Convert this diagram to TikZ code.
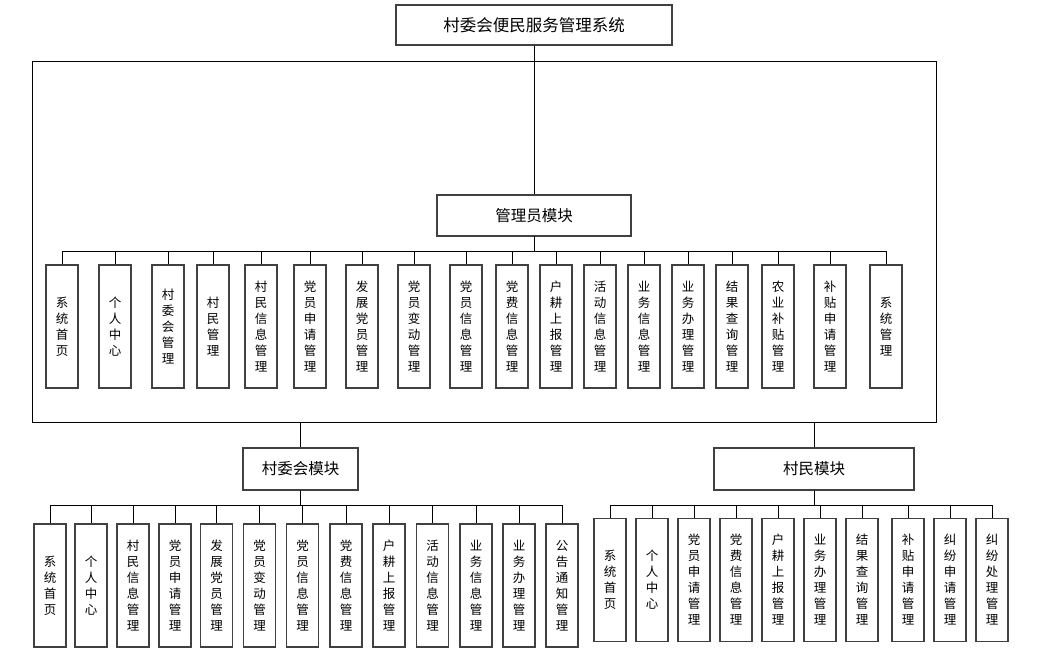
\documentclass[tikz,border=0pt]{standalone}
\usepackage{fontspec}
\setmainfont{Noto Sans CJK SC}
\usepackage{tikz}

\begin{document}
\begin{tikzpicture}[x=1pt, y=-1pt, line width=0.8pt,
box/.style={draw=black!75, line width=1.1pt, inner sep=0pt},
func/.style={box, minimum width=32pt, minimum height=123pt, align=center,
font=\fontsize{12.5}{16}\selectfont},
bus/.style={to path={-- ++(0,15) -| (\tikztotarget)}}]
\useasboundingbox (0,0) rectangle (1040,650);
\node [box, minimum width=276pt, minimum height=40pt, font=\fontsize{16.5}{20}\selectfont] (sys) at (534,25) {村委会便民服务管理系统};
\node [draw, line width=0.9pt, minimum width=904pt, minimum height=361pt] (frame) at (484,241.5) {};
\node [box, fill=white, minimum width=194pt, minimum height=41pt, font=\fontsize{15.5}{19}\selectfont] (adm) at (534,215.5) {管理员模块};
\node [box, minimum width=115pt, minimum height=42pt, font=\fontsize{15.5}{19}\selectfont] (cwh) at (300.5,469) {村委会模块};
\node [box, minimum width=200pt, minimum height=42pt, font=\fontsize{15.5}{19}\selectfont] (cm) at (814,469) {村民模块};

% admin module
\node [func] (a1) at (62,326.5) {系\\统\\首\\页};
\node [func] (a2) at (115,326.5) {个\\人\\中\\心};
\node [func] (a3) at (168,326.5) {村\\委\\会\\管\\理};
\node [func] (a4) at (213,326.5) {村\\民\\管\\理};
\node [func] (a5) at (261,326.5) {村\\民\\信\\息\\管\\理};
\node [func] (a6) at (310,326.5) {党\\员\\申\\请\\管\\理};
\node [func] (a7) at (362,326.5) {发\\展\\党\\员\\管\\理};
\node [func] (a8) at (414,326.5) {党\\员\\变\\动\\管\\理};
\node [func] (a9) at (466,326.5) {党\\员\\信\\息\\管\\理};
\node [func] (a10) at (512,326.5) {党\\费\\信\\息\\管\\理};
\node [func] (a11) at (556,326.5) {户\\耕\\上\\报\\管\\理};
\node [func] (a12) at (600,326.5) {活\\动\\信\\息\\管\\理};
\node [func] (a13) at (644,326.5) {业\\务\\信\\息\\管\\理};
\node [func] (a14) at (688,326.5) {业\\务\\办\\理\\管\\理};
\node [func] (a15) at (732,326.5) {结\\果\\查\\询\\管\\理};
\node [func] (a16) at (778,326.5) {农\\业\\补\\贴\\管\\理};
\node [func] (a17) at (830,326.5) {补\\贴\\申\\请\\管\\理};
\node [func] (a18) at (886,326.5) {系\\统\\管\\理};

% village committee module
\node [func] (w1) at (50,585.5) {系\\统\\首\\页};
\node [func] (w2) at (91,585.5) {个\\人\\中\\心};
\node [func] (w3) at (133,585.5) {村\\民\\信\\息\\管\\理};
\node [func] (w4) at (175,585.5) {党\\员\\申\\请\\管\\理};
\node [func] (w5) at (216.5,585.5) {发\\展\\党\\员\\管\\理};
\node [func] (w6) at (259.5,585.5) {党\\员\\变\\动\\管\\理};
\node [func] (w7) at (302.5,585.5) {党\\员\\信\\息\\管\\理};
\node [func] (w8) at (346,585.5) {党\\费\\信\\息\\管\\理};
\node [func] (w9) at (389,585.5) {户\\耕\\上\\报\\管\\理};
\node [func] (w10) at (432.5,585.5) {活\\动\\信\\息\\管\\理};
\node [func] (w11) at (476,585.5) {业\\务\\信\\息\\管\\理};
\node [func] (w12) at (519,585.5) {业\\务\\办\\理\\管\\理};
\node [func] (w13) at (562,585.5) {公\\告\\通\\知\\管\\理};

% villager module
\node [func] (v1) at (610,580) {系\\统\\首\\页};
\node [func] (v2) at (652,580) {个\\人\\中\\心};
\node [func] (v3) at (694,580) {党\\员\\申\\请\\管\\理};
\node [func] (v4) at (736,580) {党\\费\\信\\息\\管\\理};
\node [func] (v5) at (778,580) {户\\耕\\上\\报\\管\\理};
\node [func] (v6) at (820,580) {业\\务\\办\\理\\管\\理};
\node [func] (v7) at (862,580) {结\\果\\查\\询\\管\\理};
\node [func] (v8) at (908,580) {补\\贴\\申\\请\\管\\理};
\node [func] (v9) at (950,580) {纠\\纷\\申\\请\\管\\理};
\node [func] (v10) at (992,580) {纠\\纷\\处\\理\\管\\理};

\path (sys) edge (adm)
(cwh.north |- frame.south) edge (cwh)
(cm.north |- frame.south) edge (cm);
\path (adm.south)
edge [bus] (a1.north) edge [bus] (a2.north) edge [bus] (a3.north)
edge [bus] (a4.north) edge [bus] (a5.north) edge [bus] (a6.north)
edge [bus] (a7.north) edge [bus] (a8.north) edge [bus] (a9.north)
edge [bus] (a10.north) edge [bus] (a11.north) edge [bus] (a12.north)
edge [bus] (a13.north) edge [bus] (a14.north) edge [bus] (a15.north)
edge [bus] (a16.north) edge [bus] (a17.north) edge [bus] (a18.north);
\path (cwh.south)
edge [bus] (w1.north) edge [bus] (w2.north) edge [bus] (w3.north)
edge [bus] (w4.north) edge [bus] (w5.north) edge [bus] (w6.north)
edge [bus] (w7.north) edge [bus] (w8.north) edge [bus] (w9.north)
edge [bus] (w10.north) edge [bus] (w11.north) edge [bus] (w12.north)
edge [bus] (w13.north);
\path (cm.south)
edge [bus] (v1.north) edge [bus] (v2.north) edge [bus] (v3.north)
edge [bus] (v4.north) edge [bus] (v5.north) edge [bus] (v6.north)
edge [bus] (v7.north) edge [bus] (v8.north) edge [bus] (v9.north)
edge [bus] (v10.north);
\end{tikzpicture}
\end{document}
